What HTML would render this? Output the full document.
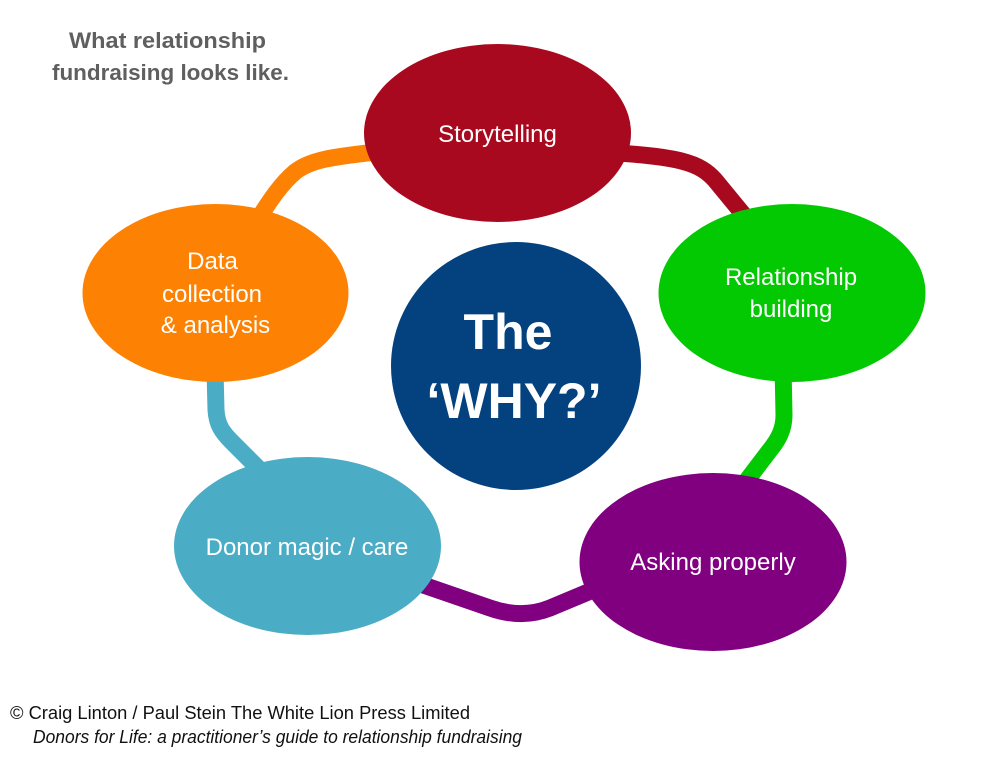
<!DOCTYPE html>
<html>
<head>
<meta charset="utf-8">
<style>
  html,body{margin:0;padding:0;background:#fff;}
  svg{display:block;}
</style>
</head>
<body>
<svg width="997" height="763" viewBox="0 0 997 763" xmlns="http://www.w3.org/2000/svg" font-family="'Liberation Sans', Arial, sans-serif">
  <rect width="997" height="763" fill="#ffffff"/>

  <!-- Title -->
  <text x="69" y="48" font-size="22.4" font-weight="bold" fill="#5f5f5f" textLength="197" lengthAdjust="spacingAndGlyphs">What relationship</text>
  <text x="52" y="80" font-size="22.4" font-weight="bold" fill="#5f5f5f" textLength="237" lengthAdjust="spacingAndGlyphs">fundraising looks like.</text>

  <!-- Connectors -->
  <g fill="none" stroke-width="17" stroke-linecap="butt" stroke-linejoin="round">
    <path d="M 385 151 C 330 157, 310 160, 295 172 C 282 183, 272 197, 255 224" stroke="#FD8204"/>
    <path d="M 600 152 C 680 156, 700 163, 715 180 L 752 225" stroke="#A8091F"/>
    <path d="M 783 365 L 784 415 C 784 430, 778 440, 770 450 L 738 492" stroke="#03C903"/>
    <path d="M 400 577 L 490 608 C 510 615, 530 616, 550 608 L 605 585" stroke="#800080"/>
    <path d="M 215 370 L 216 410 C 217 425, 222 432, 232 442 L 268 478" stroke="#4BACC6"/>
  </g>

  <!-- Nodes -->
  <ellipse cx="497.5" cy="133" rx="133.5" ry="89" fill="#A8091F"/>
  <ellipse cx="792" cy="293" rx="133.5" ry="89" fill="#03C903"/>
  <ellipse cx="713" cy="562" rx="133.5" ry="89" fill="#800080"/>
  <ellipse cx="307.5" cy="546" rx="133.5" ry="89" fill="#4BACC6"/>
  <ellipse cx="215.5" cy="293" rx="133" ry="89" fill="#FD8204"/>
  <ellipse cx="516" cy="366" rx="125" ry="124" fill="#04427F"/>

  <!-- Node labels -->
  <g fill="#ffffff" font-size="24" text-anchor="middle">
    <text x="497.5" y="142">Storytelling</text>
    <text x="791" y="285">Relationship</text>
    <text x="791" y="317">building</text>
    <text x="212.5" y="269">Data</text>
    <text x="212" y="302">collection</text>
    <text x="215.5" y="333">&amp; analysis</text>
    <text x="307" y="555">Donor magic / care</text>
    <text x="713" y="570">Asking properly</text>
  </g>
  <g fill="#ffffff" font-size="50" font-weight="bold" text-anchor="middle">
    <text x="508" y="349">The</text>
    <text x="514" y="418">‘WHY?’</text>
  </g>

  <!-- Footer -->
  <text x="10" y="719" font-size="18" fill="#111" textLength="460" lengthAdjust="spacingAndGlyphs">© Craig Linton / Paul Stein The White Lion Press Limited</text>
  <text x="33" y="743" font-size="18" font-style="italic" fill="#111" textLength="489" lengthAdjust="spacingAndGlyphs">Donors for Life: a practitioner’s guide to relationship fundraising</text>
</svg>
</body>
</html>
